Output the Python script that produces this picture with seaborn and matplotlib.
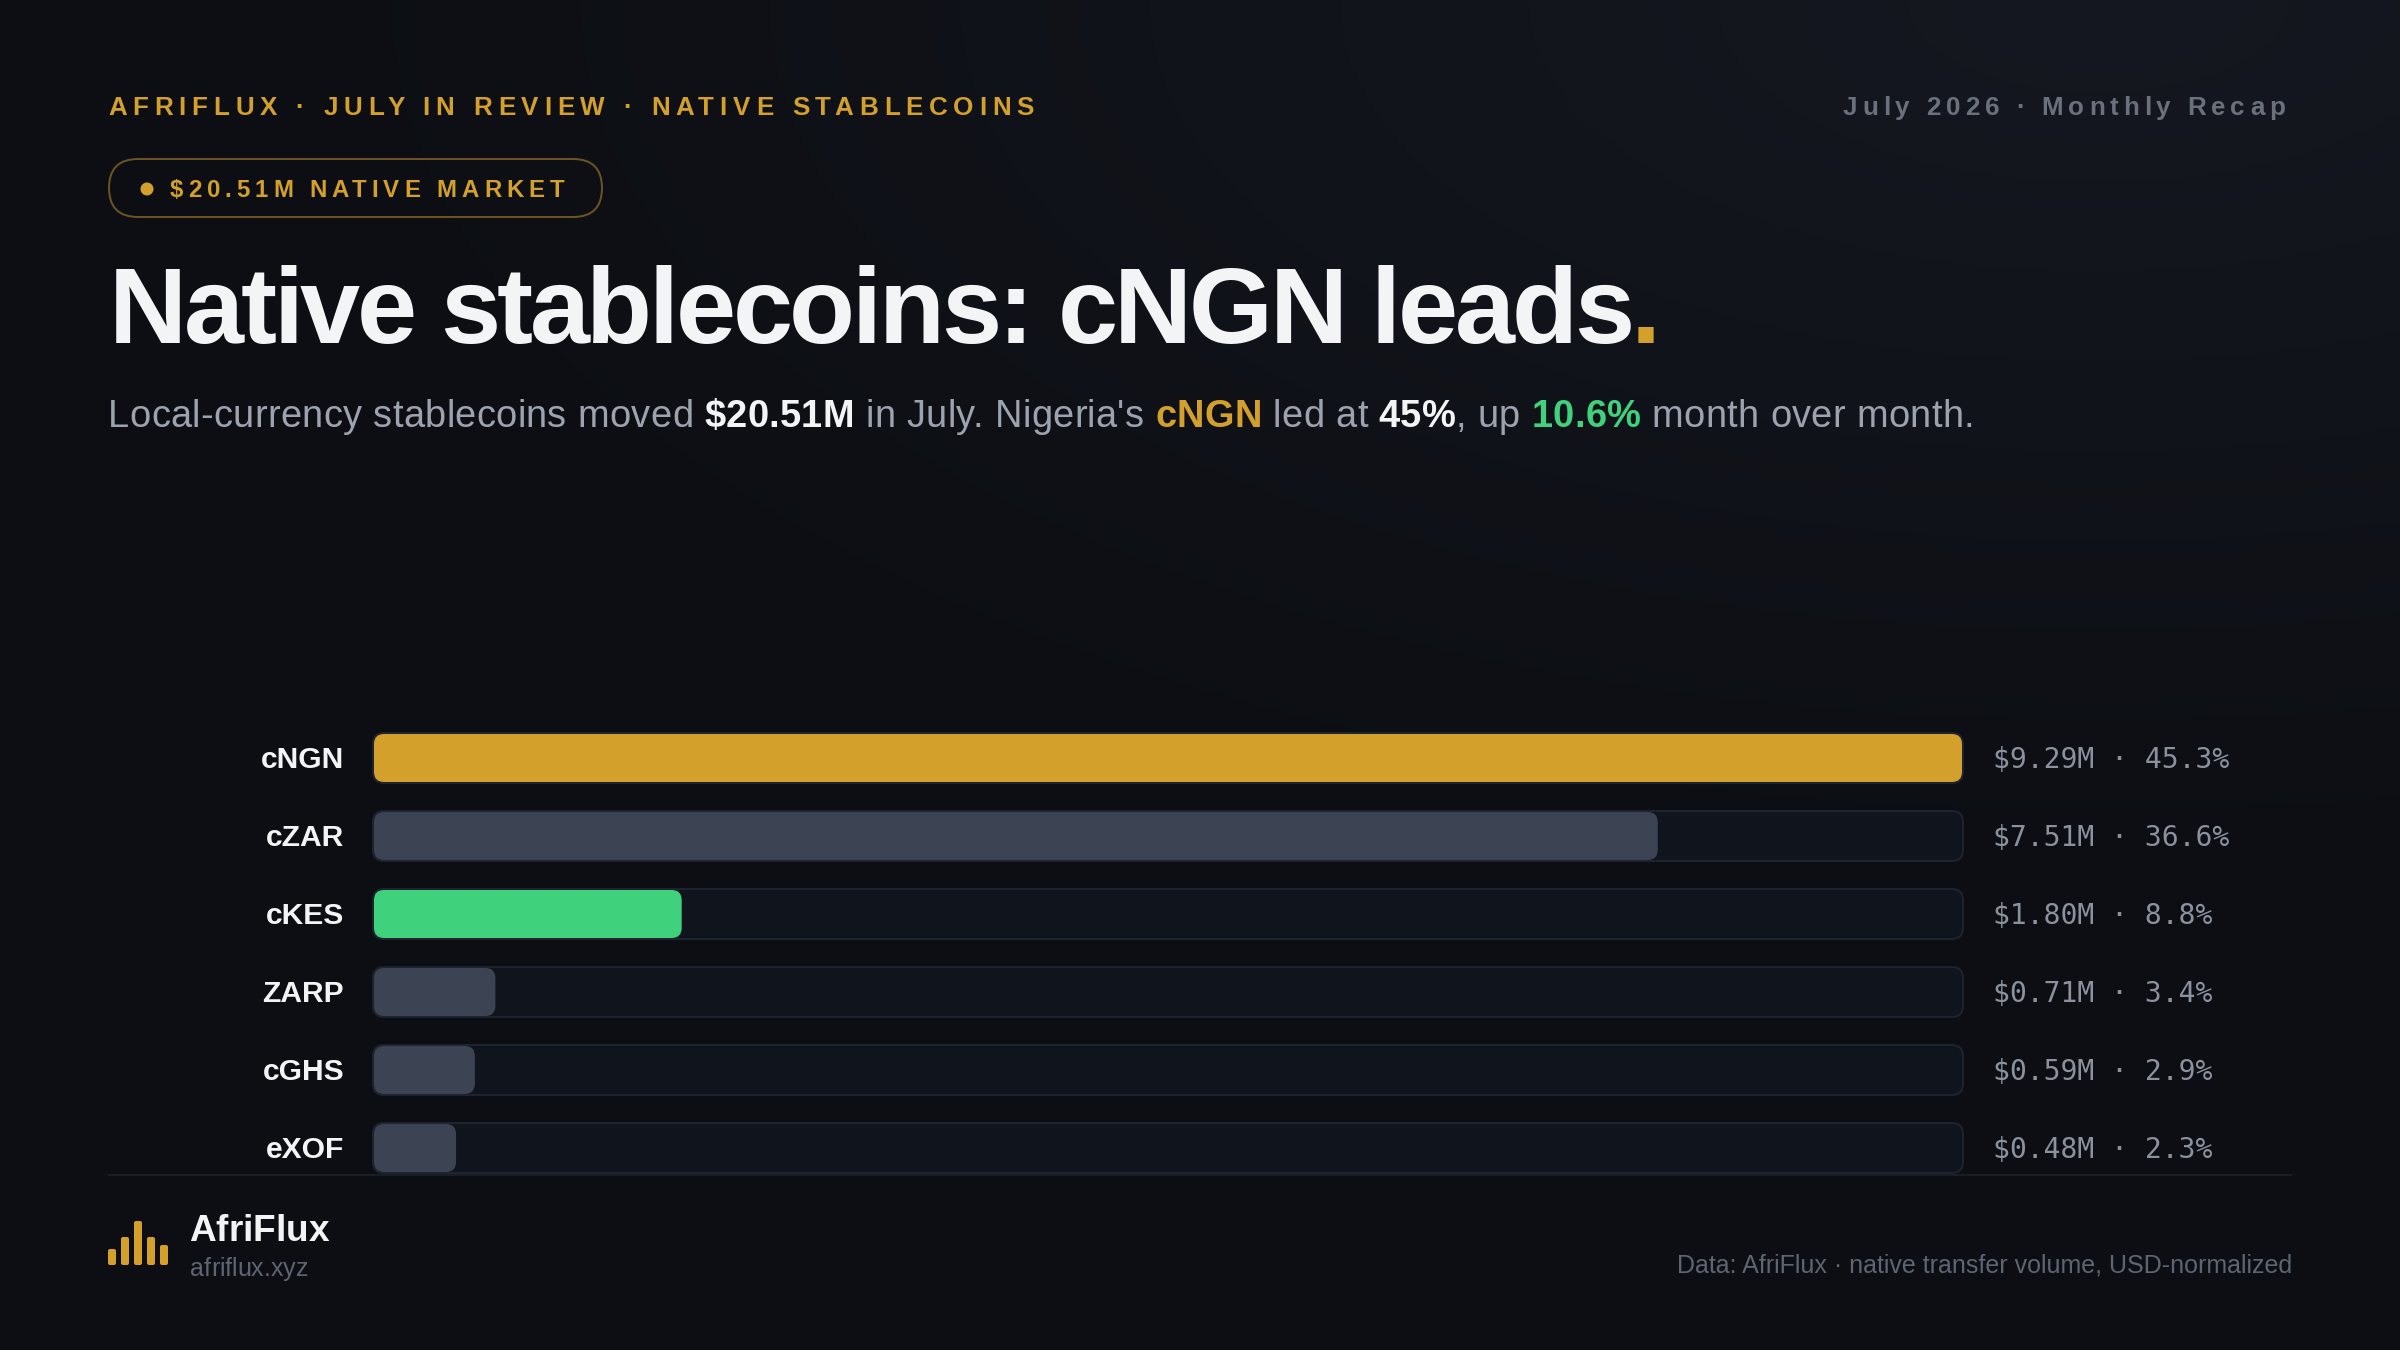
import numpy as np
import pandas as pd
import matplotlib
matplotlib.use("Agg")
import matplotlib.pyplot as plt
import matplotlib.font_manager as fm
from matplotlib.colors import to_rgb
from matplotlib.ft2font import LoadFlags, Kerning
from matplotlib.patches import FancyBboxPatch, Circle
from matplotlib.text import Text
from matplotlib.transforms import IdentityTransform, Bbox, ScaledTranslation
import seaborn as sns

# data
coins = ["cNGN", "cZAR", "cKES", "ZARP", "cGHS", "eXOF"]
volumes = [9.29, 7.51, 1.80, 0.71, 0.59, 0.48]
shares = [45.3, 36.6, 8.8, 3.4, 2.9, 2.3]
logo_heights = [16, 28, 44, 28, 20]

# colours
BG = "#0c0e13"
GLOW = "#151820"
GOLD = "#d4a02c"
GREEN = "#3fd17c"
SLATE = "#3c4352"
TRACK = "#10141c"
EDGE = "#1e2330"
WHITE = "#f3f4f6"
GREY = "#9ca3af"
DIM = "#5d6472"
bar_colors = dict(zip(coins, [GOLD, SLATE, GREEN, SLATE, SLATE, SLATE]))

DPI = 100
SANS = "Liberation Sans"
MONO = "DejaVu Sans Mono"


def px(size):
    return size * 72 / DPI


def pen_offsets(s, prop):
    # pen position before each glyph, plus the end position
    font = fm.get_font(fm.findfont(prop))
    font.set_size(prop.get_size_in_points(), DPI)
    out = [0.0]
    prev = None
    for ch in s:
        idx = font.get_char_index(ord(ch))
        if prev is not None:
            out[-1] += font.get_kerning(prev, idx, Kerning.DEFAULT) / 64
        adv = font.load_char(ord(ch), flags=LoadFlags.NO_HINTING).linearHoriAdvance / 65536
        out.append(out[-1] + adv)
        prev = idx
    return out


class TrackedText(Text):
    # one real text object, drawn glyph by glyph for css-like letter spacing
    def __init__(self, *args, tracking=0.0, last_color=None, **kwargs):
        super().__init__(*args, **kwargs)
        self.tracking = tracking
        self.last_color = last_color

    def offsets(self):
        base = pen_offsets(self.get_text(), self.get_fontproperties())
        return [b + i * self.tracking for i, b in enumerate(base)]

    def draw(self, renderer):
        x0, y0 = self.get_transform().transform(self.get_position())
        s = self.get_text()
        for i, (ch, off) in enumerate(zip(s, self.offsets())):
            col = self.last_color if self.last_color and i == len(s) - 1 else self.get_color()
            t = Text(x0 + off, y0, ch, color=col, fontproperties=self.get_fontproperties(),
                     va="baseline", ha="left", transform=IdentityTransform())
            t.set_figure(self.get_figure())
            t.draw(renderer)

    def get_window_extent(self, renderer=None, dpi=None):
        box = super().get_window_extent(renderer, dpi)
        x0, _ = self.get_transform().transform(self.get_position())
        return Bbox([[x0, box.y0], [x0 + self.offsets()[-1], box.y1]])


def put(x, y, s, size, color, weight="normal", width=None, tracking=0.0, last_color=None):
    prop = fm.FontProperties(family=SANS, weight=weight, size=px(size))
    if width is not None:
        tracking = (width - pen_offsets(s, prop)[-1]) / (len(s) - 1)
    t = TrackedText(x, y, s, tracking=tracking, last_color=last_color, color=color, fontproperties=prop,
                    va="baseline", transform=page.transData)
    page.add_artist(t)
    return x + t.offsets()[-1]


def round_bars(ax, radius, aspect, scale_x, pad=0.0, **style):
    # swap seaborn's rectangles for rounded ones of the same extent
    for bar in list(ax.patches):
        if isinstance(bar, FancyBboxPatch):
            continue
        x, y, w, h = bar.get_x(), bar.get_y(), bar.get_width(), bar.get_height()
        color = style.get("facecolor", bar.get_facecolor())
        patch = FancyBboxPatch((x - pad / scale_x, y), w + 2 * pad / scale_x, h,
                               boxstyle=f"round,pad=0,rounding_size={radius / scale_x}",
                               mutation_aspect=aspect, facecolor=color,
                               edgecolor=style.get("edgecolor", "none"),
                               linewidth=style.get("linewidth", 0), clip_on=False, zorder=style.get("zorder", 2))
        bar.remove()
        ax.add_patch(patch)


sns.set_theme(style="dark", rc={"figure.facecolor": BG, "axes.facecolor": "none", "savefig.facecolor": BG})
plt.rcParams["font.family"] = [SANS, "DejaVu Sans"]

fig = plt.figure(figsize=(24, 13.5), dpi=DPI)

# page layer, its data units are pixels of the 2400x1350 canvas
page = fig.add_axes([0, 0, 1, 1], zorder=0)

# faint glow from the top right corner
gx, gy = np.meshgrid(np.linspace(0, 2400, 480), np.linspace(0, 1350, 270))
fade = np.clip(np.hypot((gx - 2100) / 1900, gy / 900), 0, 1)[..., None]
page.imshow(np.array(to_rgb(GLOW)) * (1 - fade) + np.array(to_rgb(BG)) * fade,
            extent=(0, 2400, 1350, 0), aspect="auto", interpolation="bilinear", zorder=0)
page.set_xlim(0, 2400)
page.set_ylim(1350, 0)
page.axis("off")

# chart layer: x 374..1962 is 0..max, rows are 78px apart
L, R, T, B = 374, 1962, 719, 1187
ax = fig.add_axes([L / 2400, 1 - B / 1350, (R - L) / 2400, (B - T) / 1350], zorder=1)
df = pd.DataFrame({"coin": coins, "volume": volumes, "track": [max(volumes)] * len(coins)})
scale_x = (R - L) / max(volumes)
aspect = scale_x / 78

sns.barplot(data=df, x="track", y="coin", color=TRACK, width=50 / 78, saturation=1, ax=ax)
round_bars(ax, 11, aspect, scale_x, pad=1, facecolor=TRACK, edgecolor=EDGE, linewidth=px(2), zorder=2)
sns.barplot(data=df, x="volume", y="coin", hue="coin", palette=bar_colors, width=48 / 78,
            saturation=1, legend=False, ax=ax)
round_bars(ax, 10, aspect, scale_x, zorder=3)

ax.set_xlim(0, max(volumes))
ax.set_ylim(5.5, -0.5)
ax.set_xlabel("")
ax.set_ylabel("")
ax.xaxis.set_visible(False)
ax.grid(False)
sns.despine(ax=ax, left=True, bottom=True)
ax.tick_params(axis="y", length=0, pad=px(30))
nudge = ScaledTranslation(0, 1.5 / DPI, fig.dpi_scale_trans)
for lab in ax.get_yticklabels():
    lab.set_fontproperties(fm.FontProperties(family=SANS, weight="bold", size=px(30)))
    lab.set_color(WHITE)
    lab.set_verticalalignment("center_baseline")
    lab.set_transform(lab.get_transform() + nudge)

for i, (v, s) in enumerate(zip(volumes, shares)):
    ax.annotate(f"${v:.2f}M · {s:.1f}%", xy=(max(volumes), i), xytext=(31, 1), textcoords="offset pixels",
                va="center_baseline", ha="left", color="#8b929e", family=MONO, fontsize=px(28))

# header
put(108, 115, "AFRIFLUX · JULY IN REVIEW · NATIVE STABLECOINS", 26, GOLD, "bold", width=926)
put(1843, 115, "July 2026 · Monthly Recap", 26, "#6a717d", "bold", width=442)

page.add_patch(FancyBboxPatch((109, 159), 493, 58, boxstyle="round,pad=0,rounding_size=29",
                              facecolor="none", edgecolor="#6b5422", linewidth=px(2)))
page.add_patch(Circle((147, 189), 6.5, facecolor=GOLD, edgecolor="none"))
put(170, 197, "$20.51M NATIVE MARKET", 24, GOLD, "bold", width=394)

put(109, 343, "Native stablecoins: cNGN leads.", 108, WHITE, "bold", tracking=-3.3, last_color=GOLD)

sub_parts = [("Local-currency stablecoins moved ", GREY, "normal"), ("$20.51M", WHITE, "bold"),
             (" in July. Nigeria's ", GREY, "normal"), ("cNGN", GOLD, "bold"), (" led at ", GREY, "normal"),
             ("45%", WHITE, "bold"), (", up ", GREY, "normal"), ("10.6%", GREEN, "bold"),
             (" month over month.", GREY, "normal")]
cursor = 108
for part, col, wt in sub_parts:
    cursor = put(cursor, 427, part, 38, col, wt, tracking=0.34)

# footer
page.plot([108, 2292], [1175, 1175], color="#191d26", lw=px(2), solid_capstyle="butt", zorder=5)
for i, h in enumerate(logo_heights):
    page.add_patch(FancyBboxPatch((108 + 13 * i, 1265 - h), 8, h, boxstyle="round,pad=0,rounding_size=2",
                                  facecolor=GOLD, edgecolor="none"))
put(189, 1241, "AfriFlux", 37, WHITE, "bold", width=140)
put(190, 1276, "afriflux.xyz", 25, DIM)
page.text(2292, 1273, "Data: AfriFlux · native transfer volume, USD-normalized", ha="right", va="baseline",
          color=DIM, family=SANS, fontsize=px(25))

fig.savefig("out.png", dpi=DPI)
